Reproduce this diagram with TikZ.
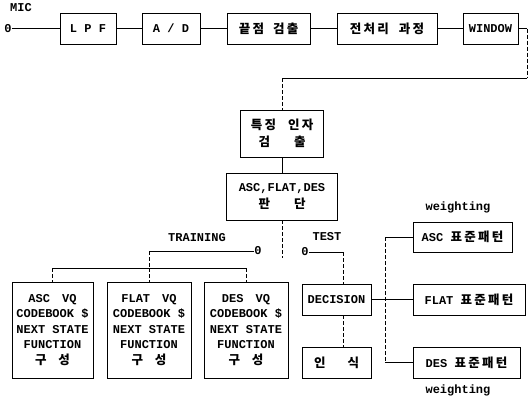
\documentclass[tikz,border=0pt]{standalone}
\usepackage{fontspec}
\setmainfont{Liberation Mono}
\newfontfamily\kr[LetterSpace=18]{Noto Sans CJK KR}
\newcommand\K[1]{{\kr\bfseries\fontsize{12.5}{15.5}\selectfont #1}}
\begin{document}
\begin{tikzpicture}[x=1pt,y=-1pt,
  blk/.style={draw,line width=0.8pt,rectangle,inner sep=1pt,align=center,font=\bfseries\fontsize{12}{15.5}\selectfont},
  lbl/.style={inner sep=0pt,font=\bfseries\fontsize{12}{14}\selectfont},
  wire/.style={line width=0.8pt},
  dwire/.style={line width=0.8pt,dash pattern=on 4pt off 2pt}]
\useasboundingbox (0,0) rectangle (531,405);
% top row
\node[lbl] (mic) at (21,8) {MIC};
\node[lbl] (s0) at (8,28.5) {0};
\node[blk,minimum width=56,minimum height=31] (lpf) at (88,28.5) {L P F};
\node[blk,minimum width=58,minimum height=31] (ad) at (171,28.5) {A / D};
\node[blk,minimum width=83,minimum height=31] (ep) at (268.5,28.5) {\K{끝점}\hspace{9pt}\K{검출}};
\node[blk,minimum width=100,minimum height=31] (pre) at (387,28.5) {\K{전처리}\hspace{10pt}\K{과정}};
\node[blk,minimum width=55,minimum height=31] (win) at (490.5,28.5) {WINDOW};
\draw[wire] (s0.east) -- (lpf.west);
\draw[wire] (lpf) -- (ad);
\draw[wire] (ad) -- (ep);
\draw[wire] (ep) -- (pre);
\draw[wire] (pre) -- (win);
\coordinate (c1) at (527,28.5);
\coordinate (c2) at (527,78);
\coordinate (c3) at (282,78);
% feature
\node[blk,minimum width=83,minimum height=47] (feat) at (282,133.5) {\K{특징}\hspace{12pt}\K{인자}\\[1pt]\K{검}\hspace{24pt}\K{출}};
\node[blk,minimum width=111,minimum height=47] (judge) at (282,196.5) {ASC,FLAT,DES\\[1pt]\K{판}\hspace{24pt}\K{단}};
\draw[wire] (win.east) -- (c1);
\draw[dwire] (c1) -- (c2);
\draw[wire] (c2) -- (c3);
\draw[dwire] (c3) -- (feat.north);
\draw[wire] (feat.south) -- (judge.north);
% training
\node[lbl] (tr) at (197,238) {TRAINING};
\node[lbl] (t0) at (258,251) {0};
\coordinate (j1) at (149,251);
\coordinate (j2) at (149,268);
\coordinate (test) at (282,258);
\draw[dwire] (judge.south) -- (test);
\node[blk,minimum width=81,minimum height=96] (ascvq) at (52.5,330) {ASC\quad VQ\\CODEBOOK \$\\NEXT STATE\\FUNCTION\\\K{구}\hspace{12pt}\K{성}};
\node[blk,minimum width=84,minimum height=96] (flatvq) at (149,330) {FLAT\quad VQ\\CODEBOOK \$\\NEXT STATE\\FUNCTION\\\K{구}\hspace{12pt}\K{성}};
\node[blk,minimum width=84,minimum height=96] (desvq) at (246,330) {DES\quad VQ\\CODEBOOK \$\\NEXT STATE\\FUNCTION\\\K{구}\hspace{12pt}\K{성}};
\draw[wire] (t0.west) -- (j1);
\draw[dwire] (j1) -- (j2);
\draw[wire] (ascvq.north |- j2) -- (desvq.north |- j2);
\draw[dwire] (ascvq.north |- j2) -- (ascvq.north);
\draw[dwire] (j2) -- (flatvq.north);
\draw[dwire] (desvq.north |- j2) -- (desvq.north);
% test
\node[lbl] (tst) at (327,237) {TEST};
\node[lbl] (e0) at (305,252) {0};
\node[blk,minimum width=69,minimum height=31] (dec) at (336.5,299.5) {DECISION};
\node[blk,minimum width=69,minimum height=31] (rec) at (336.5,362.5) {\K{인}\hspace{22pt}\K{식}};
\coordinate (k1) at (343,252);
\draw[wire] (e0.east) -- (k1);
\draw[dwire] (k1) -- (k1 |- dec.north);
\draw[dwire] (k1 |- dec.south) -- (k1 |- rec.north);
% patterns
\node[lbl] (w1) at (458,207) {weighting};
\node[lbl] (w2) at (458,390) {weighting};
\node[blk,minimum width=99,minimum height=30] (ascp) at (462.5,237) {ASC \K{표준패턴}};
\node[blk,minimum width=112,minimum height=31] (flatp) at (469,299.5) {FLAT \K{표준패턴}};
\node[blk,minimum width=107,minimum height=31] (desp) at (466.5,362.5) {DES \K{표준패턴}};
\draw[wire] (dec.east) -- (flatp.west);
\coordinate (v1) at (385,237);
\coordinate (v2) at (385,362.5);
\draw[wire] (ascp.west) -- (v1);
\draw[dwire] (v1) -- (v2);
\draw[wire] (v2) -- (desp.west);
\end{tikzpicture}
\end{document}
